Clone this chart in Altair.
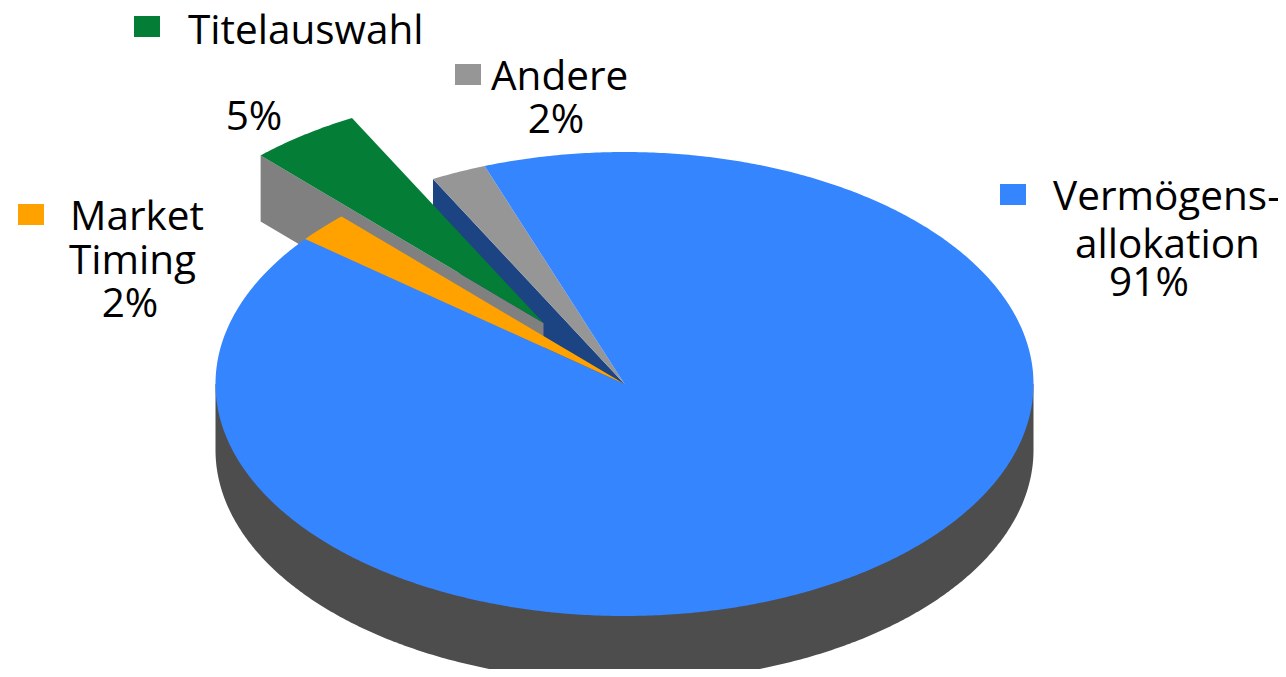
import math
import altair as alt

# Data
categories = ["Vermögensallokation", "Andere", "Titelauswahl", "Market Timing"]
shares = [91.3, 2.2, 4.4, 2.1]          # slice size in percent, as drawn
share_labels = ["91%", "2%", "5%", "2%"]  # printed labels
top_colors = ["#3585FF", "#969696", "#047D36", "#FFA200"]
wall_colors = {"body": "#4D4D4D", "Andere": "#1C4382", "Titelauswahl": "#808080"}

# Pie geometry (page pixels -> chart pixels by the 8px page margin)
M = 8
CX, CY = 624.5 - M, 384 - M
RX, RY = 409, 232
DEPTH = 66
FIRST_EDGE = 20.0                        # degrees counter-clockwise of 12 o'clock
EXPLODE = {"Titelauswahl": (-81, -61)}


def pt(deg, dx=0, dy=0, drop=0):
    a = math.radians(deg)
    return [CX + dx - RX * math.sin(a), CY + dy - RY * math.cos(a) + drop]


def feature(points):
    ring = points + [points[0]]
    return {"type": "Feature", "properties": {},
            "geometry": {"type": "Polygon", "coordinates": [ring]}}


def arc(a0, a1, dx=0, dy=0, drop=0):
    n = max(2, int(abs(a1 - a0) / 0.5))
    return [pt(a0 + (a1 - a0) * i / n, dx, dy, drop) for i in range(n + 1)]


# Slice edges, running counter-clockwise from the top
edges = {}
cur = FIRST_EDGE
order = ["Andere", "Titelauswahl", "Market Timing", "Vermögensallokation"]
for name in order:
    s = shares[categories.index(name)] * 3.6
    edges[name] = (cur, cur + s)
    cur += s


def slice_poly(name):
    a0, a1 = edges[name]
    dx, dy = EXPLODE.get(name, (0, 0))
    return feature([[CX + dx, CY + dy]] + arc(a0, a1, dx, dy))


def cut_wall(angle, dx=0, dy=0):
    o = pt(angle, dx, dy)
    return feature([[CX + dx, CY + dy], o, [o[0], o[1] + DEPTH], [CX + dx, CY + dy + DEPTH]])


body = feature(arc(90, 270, drop=DEPTH) + [pt(270), pt(90)])

projection = alt.Projection(type="identity", scale=1, translate=[0, 0])


def shape(feat, color):
    return (alt.Chart(alt.Data(values=[feat]))
            .mark_geoshape(fill=color, strokeWidth=0, clip=True)
            .project(**projection.to_dict()))


color_of = dict(zip(categories, top_colors))
layers = [
    shape(body, wall_colors["body"]),
    shape(cut_wall(edges["Andere"][1]), wall_colors["Andere"]),
    shape(slice_poly("Andere"), color_of["Andere"]),
    shape(cut_wall(edges["Titelauswahl"][1], *EXPLODE["Titelauswahl"]), wall_colors["Titelauswahl"]),
    shape(slice_poly("Titelauswahl"), color_of["Titelauswahl"]),
    shape(slice_poly("Vermögensallokation"), color_of["Vermögensallokation"]),
    shape(slice_poly("Market Timing"), color_of["Market Timing"]),
]

FONT = "Open Sans"
SIZE = 40.5


def label(text, x, y, align="left"):
    return (alt.Chart(alt.Data(values=[{"t": text}]))
            .mark_text(font=FONT, fontSize=SIZE, color="#000000", align=align, baseline="alphabetic")
            .encode(text="t:N", x=alt.value(x - M), y=alt.value(y - M)))


def swatch(name, x, y):
    return (alt.Chart(alt.Data(values=[{"n": name}]))
            .mark_rect(color=color_of[name])
            .encode(x=alt.value(x - M), x2=alt.value(x + 26 - M), y=alt.value(y - M), y2=alt.value(y + 21 - M)))


layers += [
    swatch("Titelauswahl", 134, 16),
    swatch("Andere", 455, 64),
    swatch("Market Timing", 18, 204),
    swatch("Vermögensallokation", 1000, 184),
    label("Titelauswahl", 188, 44),
    label(share_labels[2], 254, 130, "center"),
    label("Andere", 491, 90),
    label(share_labels[1], 556, 133, "center"),
    label("Market", 70, 230),
    label("Timing", 69, 274),
    label(share_labels[3], 130, 317, "center"),
    label("Vermögens-", 1053, 210),
    label("allokation", 1075, 258),
    label(share_labels[0], 1149, 296, "center"),
]

chart = (alt.layer(*layers)
         .properties(width=1270, height=661, padding=0, background="#FFFFFF",
                     autosize=alt.AutoSizeParams(type="none"))
         .configure_view(strokeWidth=0, stroke="transparent"))

chart.save("out.html", embed_options={"renderer": "svg", "actions": False})
